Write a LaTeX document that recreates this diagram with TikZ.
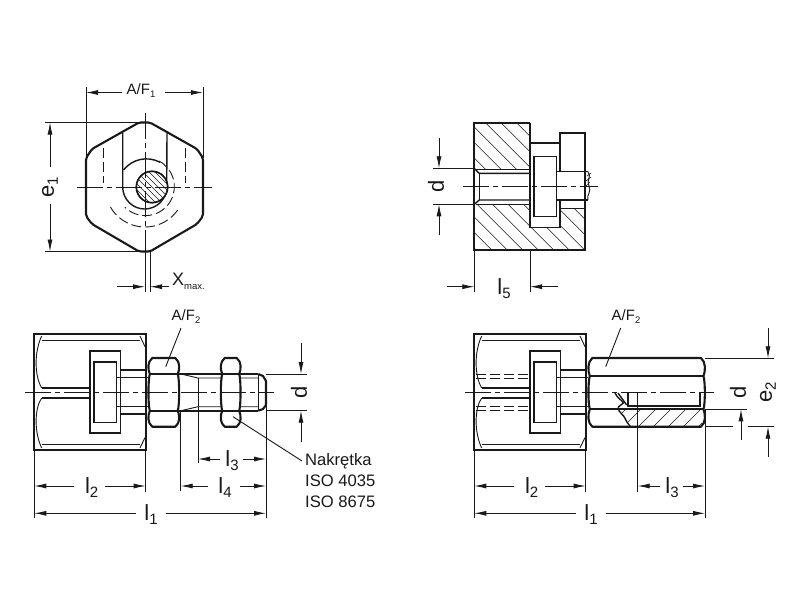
\documentclass[tikz,border=0pt]{standalone}
\usepackage{fontspec}
\setmainfont{Liberation Sans}
\usetikzlibrary{arrows.meta}
\definecolor{inkdark}{rgb}{0.1,0.1,0.1}
\tikzset{
  outline/.style={color=inkdark,line width=2.1pt},
  medline/.style={color=inkdark,line width=1.4pt},
  thinline/.style={color=inkdark,line width=0.9pt},
  hatchline/.style={color=inkdark,line width=0.6pt},
  hidden/.style={color=inkdark,line width=0.9pt,dash pattern=on 10pt off 4pt},
  axisline/.style={color=inkdark,line width=0.8pt,dash pattern=on 26pt off 4pt on 5pt off 4pt},
  dimline/.style={color=inkdark,line width=0.8pt,->},
  bigtext/.style={color=inkdark,font=\fontsize{22}{22}\selectfont,inner sep=0pt},
  midtext/.style={color=inkdark,font=\fontsize{15}{15}\selectfont,inner sep=0pt},
  notetext/.style={color=inkdark,font=\fontsize{16.6}{20}\selectfont,inner sep=0pt,anchor=west},
}
\newcommand{\bigsub}[2]{#1{\fontsize{15}{15}\selectfont\raisebox{-4pt}{#2}}}
\newcommand{\midsub}[2]{#1{\fontsize{9.5}{9.5}\selectfont\raisebox{-3pt}{#2}}}
% nut end with slot, as seen from the side
\newcommand{\bodyside}{
  \draw[outline] (34.3,334) rectangle (145.7,450);
  \draw[thinline] (41.7,340) -- (140,340);
  \draw[thinline] (41.7,444.5) -- (140,444.5);
  \draw[thinline] (41.7,336) .. controls (34,352) and (34.5,376) .. (41.7,388);
  \draw[thinline] (41.7,398) .. controls (34.5,408) and (34,432) .. (41.7,448);
  \draw[thinline] (140,336) -- (145,346.7);
  \draw[thinline] (140,448) -- (145,437.5);
  \draw[medline] (41.7,388) -- (90,388);
  \draw[medline] (41.7,398) -- (90,398);
  \draw[medline] (90,351) rectangle (120.7,433);
  \draw[medline] (94,362) rectangle (116.7,422.7);
  \draw[medline] (120.7,370) -- (145.7,370);
  \draw[medline] (120.7,414) -- (145.7,414);
  \draw[medline] (116.7,377.7) -- (148.3,377.7);
  \draw[medline] (116.7,406.7) -- (148.3,406.7);
}
% hexagon seen across the flats: #1 left, #2 right, #3 and #4 the two edges
\newcommand{\hexside}[4]{
  \draw[outline,fill=white,line join=round] (#1+1.5,#3) .. controls (#1-0.5,#3-5) and (#1-1,362) .. (#1+4,358)
     -- (#2-4,358) .. controls (#2+1,362) and (#2+0.5,#3-5) .. (#2-1.5,#3)
     .. controls (#2+0.3,#3+6) and (#2+0.3,#4-6) .. (#2-1.5,#4)
     .. controls (#2+0.5,#4+5) and (#2+1,422.7) .. (#2-4,426.7)
     -- (#1+4,426.7) .. controls (#1-1,422.7) and (#1-0.5,#4+5) .. (#1+1.5,#4)
     .. controls (#1-0.3,#4-6) and (#1-0.3,#3+6) .. (#1+1.5,#3) -- cycle;
  \draw[outline] (#1+1.5,#3) -- (#2-1.5,#3);
  \draw[outline] (#1+1.5,#4) -- (#2-1.5,#4);
}
\begin{document}
\begin{tikzpicture}[line cap=butt,line join=miter,>={Latex[length=12pt,width=5pt]},x=1pt,y=-1pt]
  \useasboundingbox (0,0) rectangle (800,600);
  \fill[white] (0,0) rectangle (800,600);

  % end view
  \draw[outline,rounded corners=2pt] (139,122.5) -- (150,122.5) -- (197,149) -- (203,158) -- (203,216)
     -- (197,224) -- (150,251.5) -- (139,251.5) -- (92,224) -- (86,216) -- (86,158) -- (92,149) -- cycle;
  \draw[medline] (122.7,133) -- (122.7,187) arc (180:0:22) -- (167,133);
  \draw[medline] (123.5,170) arc (218:298:29);
  \draw[hidden] (159,161) arc (-62:135:29);
  \draw[hidden] (110.4,207) arc (150:30:40);
  \draw[hidden] (103,148) -- (103,183);
  \draw[hidden] (185,148) -- (185,183);
  \draw[medline,fill=white] (152,187) circle (15.7);
  \begin{scope}
    \clip (152,187) circle (15.7);
    \foreach \k in {-30,-24,...,30} \draw[hatchline] (152+\k-20,187-20) -- ++(40,40);
  \end{scope}
  \draw[medline] (152,187) circle (15.7);
  \draw[axisline] (77,187) -- (212,187);
  \draw[axisline] (145,113) -- (145,251);
  \draw[thinline] (145,251) -- (145,292);
  \draw[thinline] (150,251) -- (150,292);

  \node[midtext] (labelAFone) at (141,91) {\midsub{A/F}{1}};
  \draw[thinline] (86,87) -- (86,158);
  \draw[thinline] (203,87) -- (203,158);
  \draw[dimline] (122,92.5) -- (86,92.5);
  \draw[dimline] (165,92.5) -- (203,92.5);

  \node[bigtext,rotate=90] (labelEone) at (50,187) {\bigsub{e}{1}};
  \draw[thinline] (45,122.5) -- (139,122.5);
  \draw[thinline] (45,251.5) -- (139,251.5);
  \draw[dimline] (50,167) -- (50,122.5);
  \draw[dimline] (50,204) -- (50,251.5);

  \node[color=inkdark,font=\fontsize{18}{18}\selectfont,inner sep=0pt,anchor=west] (labelX) at (172,281)
     {X{\fontsize{9.5}{9.5}\selectfont\raisebox{-4pt}{max.}}};
  \draw[dimline] (117,286.7) -- (145,286.7);
  \draw[dimline] (169,286.7) -- (150,286.7);

  % section, upper right
  \begin{scope}
    \clip (474.3,122.7) rectangle (530,169.3);
    \foreach \k in {-120,-104.5,...,80} \draw[hatchline] (474.3+\k,100) -- ++(120,120);
  \end{scope}
  \begin{scope}
    \clip (474.3,204) -- (530,204) -- (530,227.3) -- (560,227.3) -- (560,208.3) -- (585,208.3) -- (585,250) -- (474.3,250) -- cycle;
    \foreach \k in {-120,-104.5,...,120} \draw[hatchline] (474.3+\k,190) -- ++(120,120);
  \end{scope}
  \draw[outline] (530,122.7) -- (474.3,122.7) -- (474.3,250) -- (585,250) -- (585,132.7) -- (560,132.7) -- (560,171.7);
  \draw[outline] (530,122.7) -- (530,143.3) -- (560,143.3);
  \draw[medline] (530,143.3) -- (530,227.3) -- (560,227.3) -- (560,200);
  \draw[medline] (534,156.7) rectangle (556.7,216.7);
  \draw[thinline] (530,250) -- (530,292);
  \draw[medline] (474.3,168.5) -- (479.3,173.3) -- (530,173.3);
  \draw[medline] (474.3,204.3) -- (479.3,200) -- (530,200);
  \draw[thinline] (476,169.3) -- (530,169.3);
  \draw[thinline] (476,204) -- (530,204);
  \draw[medline] (479.3,173.3) -- (479.3,200);
  \draw[medline] (556.7,171.7) -- (588,171.7);
  \draw[medline] (556.7,200) -- (588,200);
  \draw[medline] (560,208.3) -- (585,208.3);
  \draw[thinline] (588,171.7) .. controls (592,177) and (586,180) .. (589,186) .. controls (592,192) and (586,195) .. (588,200);
  \draw[hatchline] (587,176) -- (591,173);
  \draw[hatchline] (586,181) -- (591,177);
  \draw[hatchline] (586,186) -- (590,182);
  \draw[axisline] (463,186.7) -- (598,186.7);

  \node[bigtext,rotate=90] (labelDtop) at (436,186.7) {d};
  \draw[thinline] (433,168.3) -- (474.3,168.3);
  \draw[thinline] (433,204.3) -- (474.3,204.3);
  \draw[dimline] (439,138) -- (439,168.3);
  \draw[dimline] (439,235) -- (439,204.3);

  \node[bigtext] (labelLfive) at (504,289) {\bigsub{l}{5}};
  \draw[thinline] (474.3,250) -- (474.3,292);
  \draw[dimline] (446.7,286.7) -- (474.3,286.7);
  \draw[dimline] (557.7,286.7) -- (530,286.7);

  % side view with stud, lower left
  \bodyside
  \draw[outline] (179,374) -- (258.3,374);
  \draw[outline] (179,410.7) -- (258.3,410.7);
  \draw[outline] (258.3,374) -- (263,376) -- (266,381) -- (266,405) -- (263,409) -- (258.3,410.7);
  \draw[thinline] (258.3,374) -- (258.3,410.7);
  \draw[thinline] (181,374) -- (198,378) -- (258.3,378);
  \draw[thinline] (181,410.7) -- (198,406.7) -- (258.3,406.7);
  \hexside{148.3}{179.3}{374}{410.7}
  \hexside{220.7}{240.7}{374}{410.7}
  \draw[axisline] (25,392) -- (274,392);

  \node[midtext] (labelAFtwo) at (186,317) {\midsub{A/F}{2}};
  \coordinate (nutFlat) at (165.7,366.7);
  \draw[thinline] (181,328) -- (nutFlat);

  \node[notetext] (labelNakretka) at (305,461) {Nakrętka};
  \node[notetext] (labelIsoA) at (305,481) {ISO 4035};
  \node[notetext] (labelIsoB) at (305,501.7) {ISO 8675};
  \coordinate (nutCorner) at (233,416.7);
  \draw[thinline] (labelNakretka.west) ++(-3,0) -- (nutCorner);

  \node[bigtext,rotate=90] (labelDstud) at (299,392) {d};
  \draw[thinline] (266,374) -- (307,374);
  \draw[thinline] (266,410.7) -- (307,410.7);
  \draw[dimline] (301,343) -- (301,374);
  \draw[dimline] (301,441.7) -- (301,410.7);

  \node[bigtext] (labelLtwoA) at (91.7,488) {\bigsub{l}{2}};
  \draw[thinline] (34.3,450) -- (34.3,518);
  \draw[thinline] (145.7,450) -- (145.7,492);
  \draw[dimline] (74,486) -- (34.3,486);
  \draw[dimline] (105,486) -- (145.7,486);

  \node[bigtext] (labelLoneA) at (151,515) {\bigsub{l}{1}};
  \draw[thinline] (266,406) -- (266,518);
  \draw[dimline] (136,513.3) -- (34.3,513.3);
  \draw[dimline] (166,513.3) -- (266,513.3);

  \node[bigtext] (labelLthreeA) at (232,461) {\bigsub{l}{3}};
  \draw[thinline] (198,378) -- (198,463);
  \draw[dimline] (220,459) -- (198,459);
  \draw[dimline] (243,459) -- (266,459);

  \node[bigtext] (labelLfour) at (225,488) {\bigsub{l}{4}};
  \draw[thinline] (180.7,411) -- (180.7,491);
  \draw[dimline] (208,486) -- (180.7,486);
  \draw[dimline] (240,486) -- (266,486);

  % side view with threaded sleeve, lower right
  \begin{scope}[xshift=440pt]
    \bodyside
    \draw[hidden] (36,374) -- (90,374);
    \draw[hidden] (36,378.3) -- (90,378.3);
    \draw[hidden] (36,406.7) -- (90,406.7);
    \draw[hidden] (36,410.7) -- (90,410.7);
  \end{scope}
  \hexside{588.3}{705}{376}{409.3}
  \begin{scope}
    \clip (630,426) -- (625,418.3) -- (618.3,408) -- (702,408) -- (702,426) -- cycle;
    \foreach \k in {-60,-45,...,90} \draw[hatchline] (620+\k,430) -- ++(40,-40);
  \end{scope}
  \draw[outline] (628.3,392) -- (628.3,406) -- (700,406) -- (700,392);
  \draw[medline] (615,393) .. controls (617,398) and (623,401) .. (623.3,403) .. controls (622,405) and (618,406) .. (618.3,408)
     .. controls (618,412) and (624,415) .. (625,418.3) .. controls (626,421) and (628,424) .. (630,426);
  \draw[medline] (618,393) -- (626.7,405);
  \draw[axisline] (465,392) -- (714,392);

  \node[midtext] (labelAFthree) at (626,317) {\midsub{A/F}{2}};
  \coordinate (sleeveFlat) at (605.7,366.7);
  \draw[thinline] (620.7,328) -- (sleeveFlat);

  \node[bigtext,rotate=90] (labelDsleeve) at (738,392) {d};
  \draw[thinline] (705,409.3) -- (746.7,409.3);
  \draw[dimline] (741,440) -- (741,409.3);

  \node[bigtext,rotate=90] (labelEtwo) at (768,392) {\bigsub{e}{2}};
  \draw[thinline] (705,358.3) -- (773.5,358.3);
  \draw[thinline] (705,426.7) -- (733,426.7);
  \draw[thinline] (748,426.7) -- (773.5,426.7);
  \draw[dimline] (768,327.7) -- (768,358.3);
  \draw[dimline] (768,456.7) -- (768,426.7);

  \node[bigtext] (labelLtwoB) at (531.7,488) {\bigsub{l}{2}};
  \draw[thinline] (474.3,450) -- (474.3,518);
  \draw[thinline] (585.7,450) -- (585.7,492);
  \draw[dimline] (514,486) -- (474.3,486);
  \draw[dimline] (545,486) -- (585.7,486);

  \node[bigtext] (labelLoneB) at (591,515) {\bigsub{l}{1}};
  \draw[thinline] (705,409) -- (705,518);
  \draw[dimline] (576,513.3) -- (474.3,513.3);
  \draw[dimline] (606,513.3) -- (705,513.3);

  \node[bigtext] (labelLthreeB) at (672,488) {\bigsub{l}{3}};
  \draw[thinline] (637.7,392) -- (637.7,491.7);
  \draw[dimline] (660,486) -- (637.7,486);
  \draw[dimline] (683,486) -- (705,486);
\end{tikzpicture}
\end{document}
